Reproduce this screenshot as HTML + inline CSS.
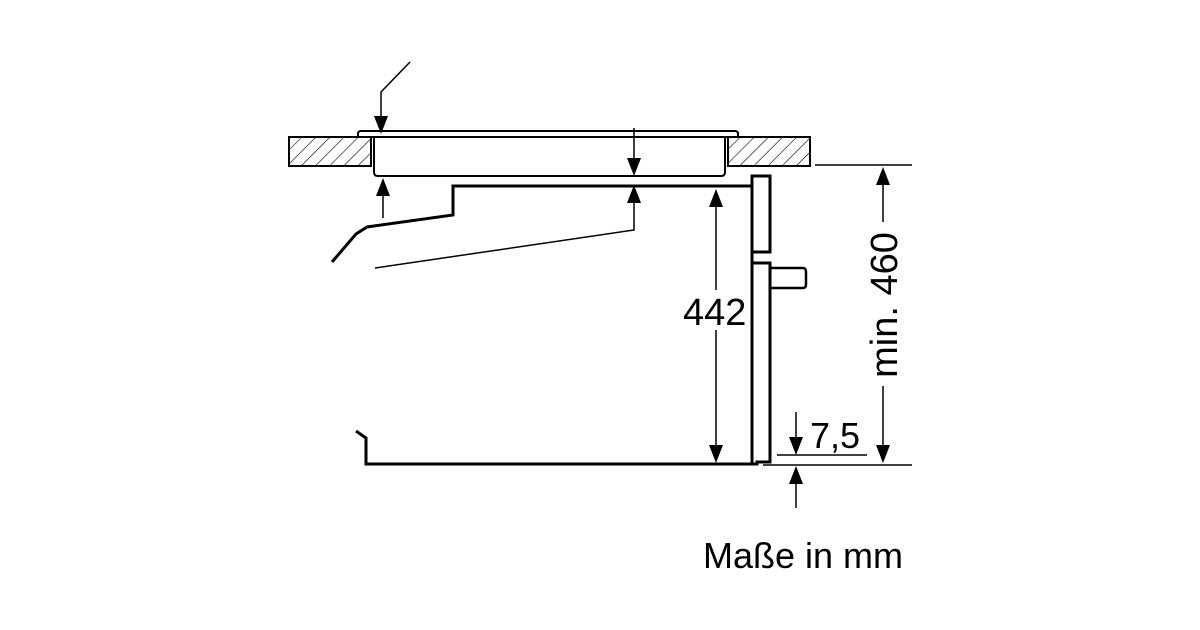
<!DOCTYPE html>
<html><head><meta charset="utf-8"><style>
html,body{margin:0;padding:0;background:#fff;width:1200px;height:630px;overflow:hidden}
svg{display:block}
text{font-family:"Liberation Sans",sans-serif;fill:#000}
</style></head><body>
<svg width="1200" height="630" viewBox="0 0 1200 630" xmlns="http://www.w3.org/2000/svg">
<defs>
<pattern id="h" patternUnits="userSpaceOnUse" width="10" height="10" patternTransform="rotate(45)">
<line x1="0" y1="0" x2="0" y2="10" stroke="#000" stroke-width="1.2"/>
</pattern>
</defs>
<g stroke="#000" fill="none" stroke-width="2">
<rect x="289" y="137" width="82" height="29" fill="url(#h)"/>
<rect x="728" y="137" width="82" height="29" fill="url(#h)"/>
<line x1="815" y1="165" x2="912" y2="165" stroke-width="1.5"/>
<path d="M358 137 V134 Q358 131 361 131 H735 Q738 131 738 134 V137"/>
<line x1="358" y1="137" x2="738" y2="137"/>
<path d="M374 137 V172 Q374 176 378 176 H721 Q725 176 725 172 V137"/>
<polyline points="410,62 381,92 381,125" stroke-width="1.5"/>
<polygon points="374,116 388,116 381,134" fill="#000" stroke="none"/>
<line x1="383" y1="218" x2="383" y2="188" stroke-width="1.5"/>
<polygon points="376,196 390,196 383,178" fill="#000" stroke="none"/>
<line x1="634" y1="128" x2="634" y2="166" stroke-width="1.5"/>
<polygon points="627,158 641,158 634,176" fill="#000" stroke="none"/>
<polyline points="634,196 634,230 375,268" stroke-width="1.5"/>
<polygon points="627,203 641,203 634,185" fill="#000" stroke="none"/>
<polyline points="752,186 453,186 453,215 367,227 356,234 332,262" stroke-width="3"/>
<polyline points="356,431 366,438 366,464 752,464" stroke-width="3"/>
<path d="M752 186 V176 H770 V252 H752 Z" stroke-width="3"/>
<path d="M752 252 V464 H757 V462 H770 V263 H752 V258" stroke-width="3"/>
<path d="M770 268 H803 Q806 268 806 272 V284 Q806 288 803 288 H770" stroke-width="2.5"/>
<line x1="716" y1="200" x2="716" y2="290" stroke-width="1.5"/>
<line x1="716" y1="330" x2="716" y2="450" stroke-width="1.5"/>
<polygon points="709,207 723,207 716,189" fill="#000" stroke="none"/>
<polygon points="709,445 723,445 716,463" fill="#000" stroke="none"/>
<line x1="883" y1="180" x2="883" y2="222" stroke-width="1.5"/>
<line x1="883" y1="386" x2="883" y2="450" stroke-width="1.5"/>
<polygon points="876,185 890,185 883,167" fill="#000" stroke="none"/>
<polygon points="876,445 890,445 883,463" fill="#000" stroke="none"/>
<line x1="763" y1="465" x2="912" y2="465" stroke-width="1.5"/>
<line x1="777" y1="455" x2="867" y2="455" stroke-width="1.5"/>
<line x1="796" y1="412" x2="796" y2="442" stroke-width="1.5"/>
<polygon points="789,437 803,437 796,455" fill="#000" stroke="none"/>
<line x1="796" y1="478" x2="796" y2="508" stroke-width="1.5"/>
<polygon points="789,484 803,484 796,466" fill="#000" stroke="none"/>
</g>
<text x="683" y="325" font-size="38">442</text>
<text x="810" y="448" font-size="36">7,5</text>
<text transform="translate(897,305) rotate(-90)" text-anchor="middle" font-size="38">min. 460</text>
<text x="703" y="568" font-size="36">Maße in mm</text>
</svg>
</body></html>
